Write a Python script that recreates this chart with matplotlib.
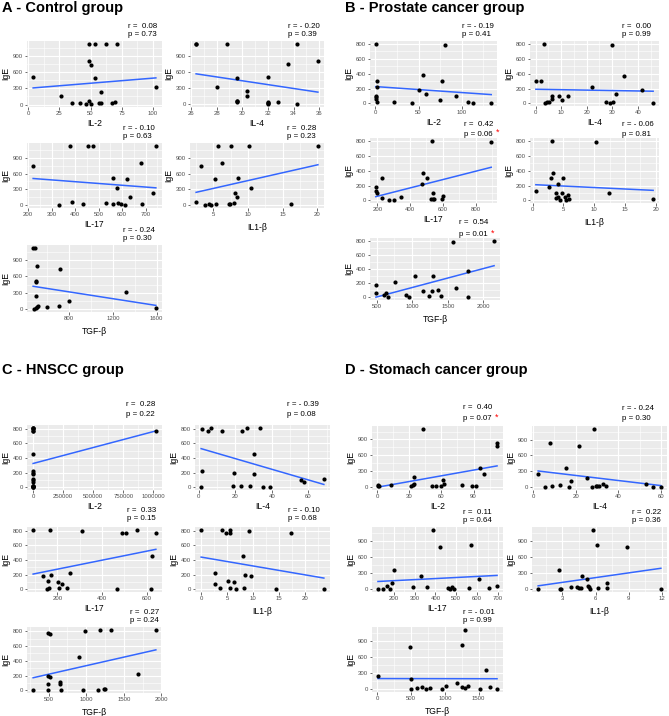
import numpy as np
import matplotlib
matplotlib.use("Agg")
import matplotlib.pyplot as plt
from matplotlib.ticker import FixedLocator

plt.rcParams['font.family'] = ['Liberation Sans', 'DejaVu Sans']

W, H = 669, 716

# ---------------- DATA ----------------
group_titles = ["A - Control group", "B - Prostate cancer group", "C - HNSCC group", "D - Stomach cancer group"]
x_labels = ["IL-2", "IL-4", "IL-17", "IL1-\u03b2", "TGF-\u03b2"]

# Control group
A_il2_x = [4, 26, 35, 41.6, 46, 49, 49, 49, 50.4, 50.7, 54, 54, 57, 58.4, 58.7, 62.5, 67, 70, 71.6, 102.4]
A_il2_y = [510, 150, 25, 30, 10, 60, 1120, 800, 730, 10, 1120, 490, 30, 240, 25, 1120, 30, 50, 1120, 320]
A_il4_x = [26.4, 26.4, 28.8, 28.0, 29.6, 29.6, 29.6, 29.6, 30.35, 30.35, 32, 32, 32, 32, 32, 32.8, 33.6, 34.3, 34.3, 35.9]
A_il4_y = [1120, 1120, 1120, 320, 490, 60, 50, 30, 240, 150, 510, 30, 25, 10, 0, 30, 740, 1120, 5, 800]
A_il17_x = [221, 380, 456, 478, 744, 680, 561, 619, 579, 332, 385, 432, 530, 561, 582, 596, 614, 633, 684, 733]
A_il17_y = [740, 1120, 1120, 1120, 1120, 800, 510, 490, 320, 5, 60, 20, 50, 20, 40, 20, 5, 150, 20, 240]
A_il1b_x = [3.2, 5.7, 7.5, 10.2, 20.1, 6.3, 5.3, 8.6, 10.5, 2.5, 3.8, 4.3, 4.6, 5.4, 7.2, 7.4, 8.0, 8.1, 8.4, 16.2]
A_il1b_y = [740, 1120, 1120, 1120, 1120, 800, 490, 510, 320, 60, 5, 20, 5, 20, 30, 20, 45, 240, 150, 20]
A_tgfb_x = [470, 490, 505, 500, 500, 494, 480, 492, 505, 518, 597, 710, 718, 797, 1321, 1594]
A_tgfb_y = [1120, 1120, 800, 510, 490, 240, 5, 25, 45, 60, 40, 50, 740, 150, 320, 20]

# Prostate cancer group
B_il2_x = [0.5, 1.5, 1.5, 0.5, 1.0, 1.0, 1.5, 22, 42.7, 50, 55.4, 58.4, 77, 80, 75, 93, 107.5, 112.7, 134]
B_il2_y = [800, 300, 215, 100, 80, 60, 20, 25, 10, 180, 380, 125, 305, 790, 50, 95, 25, 5, 5]
B_il4_x = [0.1, 2.1, 3.1, 3.5, 4.3, 5.3, 6.5, 6.5, 9, 10.5, 12.5, 22, 27.4, 29, 29.9, 30.4, 31.4, 34.7, 41.6, 46]
B_il4_y = [305, 300, 800, 5, 15, 25, 60, 95, 100, 50, 100, 215, 25, 10, 790, 25, 125, 375, 180, 5]
B_il17_x = [532, 896, 480, 506, 230, 470, 190, 192, 200, 226, 272, 304, 344, 530, 540, 540, 546, 598, 602]
B_il17_y = [800, 790, 375, 300, 300, 215, 125, 180, 100, 35, 5, 5, 50, 25, 100, 20, 20, 20, 65]
B_il1b_x = [3.1, 10.3, 3.3, 2.9, 5.0, 2.6, 0.5, 4.1, 3.8, 4.7, 3.8, 4.1, 4.5, 5.3, 5.4, 5.8, 5.9, 12.4, 19.6]
B_il1b_y = [800, 790, 375, 300, 300, 180, 125, 215, 100, 100, 30, 50, 5, 50, 5, 70, 20, 95, 15]
B_tgfb_x = [495, 490, 607, 636, 659, 752, 906, 949, 1033, 1145, 1238, 1271, 1290, 1364, 1411, 1570, 1617, 1780, 1790, 2150]
B_tgfb_y = [180, 55, 25, 65, 10, 215, 25, 5, 300, 95, 20, 95, 305, 100, 20, 790, 125, 5, 375, 800]

# HNSCC group
C_il2_x = [500, 800, 1200, 300, 1500, 900, 400, 2000, 600, 1020000, 1000, 700, 1300, 200, 1100, 1800, 100, 1600, 2500, 900]
C_il2_y = [10, 800, 230, 770, 810, 770, 195, 20, 25, 770, 810, 20, 450, 180, 810, 10, 5, 95, 80, 115]
C_il4_x = [1.3, 1.7, 2.0, 5.1, 6.8, 12.9, 19.1, 18.8, 23.3, 23.7, 26.5, 27.8, 30.3, 30.3, 33.6, 34.9, 39.2, 56.1, 57.7, 68.4]
C_il4_y = [10, 800, 230, 770, 810, 770, 195, 20, 25, 770, 810, 20, 450, 180, 810, 10, 5, 95, 80, 115]
C_il17_x = [91, 134, 151, 158, 164, 166, 171, 203, 209, 220, 241, 254, 311, 469, 490, 505, 556, 619, 625, 641]
C_il17_y = [810, 180, 5, 115, 20, 810, 195, 95, 25, 80, 20, 230, 800, 10, 770, 770, 810, 10, 450, 770]
C_il1b_x = [0, 2.6, 2.6, 3.7, 4.0, 4.7, 5.5, 5.5, 5.2, 5.6, 6.3, 6.8, 8.1, 8.3, 8.5, 9.2, 9.5, 14.3, 17.2, 23.6]
C_il1b_y = [810, 230, 80, 20, 810, 770, 810, 770, 115, 25, 95, 10, 450, 20, 195, 800, 180, 10, 770, 5]
C_tgfb_x = [293, 497, 515, 497, 497, 497, 515, 657, 657, 666, 907, 960, 987, 1160, 1187, 1240, 1245, 1334, 1685, 1926]
C_tgfb_y = [10, 190, 180, 90, 10, 770, 765, 80, 115, 5, 450, 10, 805, 5, 815, 20, 25, 810, 225, 810]

# Stomach cancer group
D_il2_x = [0.6, 0.6, 1.2, 12.5, 31.2, 33, 34, 34, 42.8, 51.4, 55, 60, 61.2, 62, 79, 89, 92, 95.7, 99.4, 112, 111.6]
D_il2_y = [40, 5, 20, 35, 20, 30, 185, 60, 1100, 20, 5, 5, 125, 60, 35, 5, 5, 360, 250, 830, 780]
D_il4_x = [2.4, 5.8, 8.8, 8.2, 12.5, 15.5, 16.9, 18, 21.6, 25.4, 28.6, 27.8, 29.4, 30.2, 30.8, 32.9, 34.4, 53, 56.4, 60]
D_il4_y = [250, 5, 20, 830, 35, 360, 5, 125, 780, 185, 1100, 5, 20, 20, 20, 60, 30, 60, 5, 5]
D_il17_x = [125, 148, 169, 181, 194, 203, 294, 333, 360, 388, 423, 459, 472, 478, 488, 559, 570, 611, 655, 695]
D_il17_y = [5, 5, 60, 5, 125, 360, 35, 250, 35, 1100, 780, 20, 5, 35, 5, 20, 830, 185, 30, 60]
D_il1b_x = [0.8, 2.7, 2.8, 2.9, 3.8, 4.35, 4.5, 4.65, 4.8, 5.2, 5.35, 5.4, 5.45, 5.8, 6.1, 6.2, 7.0, 7.0, 8.85, 11.9]
D_il1b_y = [5, 360, 5, 5, 35, 35, 25, 20, 250, 185, 60, 35, 5, 1100, 830, 30, 125, 20, 780, 5]
D_tgfb_x = [10, 478, 498, 502, 594, 662, 725, 787, 957, 1019, 1184, 1251, 1251, 1300, 1295, 1338, 1522, 1614, 1662, 1773]
D_tgfb_y = [250, 780, 185, 5, 20, 35, 5, 20, 5, 60, 125, 830, 35, 1100, 30, 60, 5, 360, 35, 5]

# correlation statistics (r, p, significant-star)
A_r = [0.08, -0.20, -0.10, 0.28, -0.24]
A_p = [0.73, 0.39, 0.63, 0.23, 0.30]
B_r = [-0.19, 0.00, 0.42, -0.06, 0.54]
B_p = [0.41, 0.99, 0.06, 0.81, 0.01]
C_r = [0.28, -0.39, 0.33, -0.10, 0.27]
C_p = [0.22, 0.08, 0.15, 0.68, 0.24]
D_r = [0.40, -0.24, 0.11, 0.22, -0.01]
D_p = [0.07, 0.30, 0.64, 0.36, 0.99]
A_star = [False, False, False, False, False]
B_star = [False, False, True, False, True]
C_star = [False, False, False, False, False]
D_star = [True, False, False, False, False]

# tick breaks
A_yticks = [0, 300, 600, 900]
B_yticks = [0, 200, 400, 600, 800]
C_yticks = [0, 200, 400, 600, 800]
D_yticks = [0, 300, 600, 900]
A_xticks = [[0, 25, 50, 75, 100], [26, 28, 30, 32, 34, 36], [200, 300, 400, 500, 600, 700], [5, 10, 15, 20], [800, 1200, 1600]]
B_xticks = [[0, 50, 100], [0, 10, 20, 30, 40], [200, 400, 600, 800], [0, 5, 10, 15, 20], [500, 1000, 1500, 2000]]
C_xticks = [[0, 250000, 500000, 750000, 1000000], [0, 20, 40, 60], [200, 400, 600], [0, 5, 10, 15, 20, 25], [500, 1000, 1500, 2000]]
D_xticks = [[0, 30, 60, 90], [0, 20, 40, 60], [200, 300, 400, 500, 600, 700], [3, 6, 9, 12], [0, 500, 1000, 1500]]

# ---------------- LAYOUT (pixels) ----------------
# panel boxes (left, top, right, bottom)
A_boxes = [(27, 41, 162, 107), (190, 41, 324, 107), (27, 143, 162, 208), (190, 143, 324, 208), (27, 245, 162, 312)]
B_boxes = [(370, 41, 497, 106), (530, 41, 659, 106), (370, 138, 497, 203), (530, 138, 659, 203), (370, 238, 500, 300)]
C_boxes = [(27, 425, 162, 490), (195, 425, 330, 490), (27, 527, 162, 592), (195, 527, 330, 592), (27, 627, 162, 693)]
D_boxes = [(372, 426, 503, 490), (532, 426, 667, 490), (372, 527, 503, 592), (532, 527, 667, 592), (372, 627, 503, 692)]
# annotation positions (x left, y of r line, y of p line)
A_ann = [(128, 26, 35), (288, 26, 35), (123, 128, 137), (287, 128, 137), (123, 230, 238)]
B_ann = [(462, 26, 35), (622, 26, 35), (464, 124, 134), (622, 124, 134), (459, 223, 235)]
C_ann = [(126, 405, 414), (287, 405, 414), (127, 511, 519), (288, 511, 519), (130, 612, 621)]
D_ann = [(463, 408, 419), (622, 409, 418), (463, 512, 521), (632, 512, 521), (463, 612, 621)]
title_pos = [(2, 8), (345, 8), (2, 370), (345, 370)]

fig = plt.figure(figsize=(W / 100, H / 100), dpi=100)

BG = '#EBEBEB'
TICKC = '#4D4D4D'


def fx(px):
    return px / W


def fy(py):
    return 1 - py / H


def rtext(r):
    return "r = " + ("- " if r < 0 else " ") + f"{abs(r):.2f}"


def panel(box, xs, ys, xticks, yticks, xlabel, r, p, star, ann):
    l, t, rr, b = box
    ax = fig.add_axes([fx(l), fy(b), (rr - l) / W, (b - t) / H])
    xs = np.asarray(xs, float)
    ys = np.asarray(ys, float)
    slope, icpt = np.polyfit(xs, ys, 1)
    lx = np.array([xs.min(), xs.max()])
    ly = slope * lx + icpt
    allx = np.concatenate([xs, lx])
    ally = np.concatenate([ys, ly])
    dx = (allx.max() - allx.min()) * 0.05
    dy = (ally.max() - ally.min()) * 0.05
    ax.set_xlim(allx.min() - dx, allx.max() + dx)
    ax.set_ylim(ally.min() - dy, ally.max() + dy)
    ax.set_facecolor(BG)
    for s in ax.spines.values():
        s.set_visible(False)
    ax.xaxis.set_major_locator(FixedLocator(xticks))
    ax.yaxis.set_major_locator(FixedLocator(yticks))
    xst = xticks[1] - xticks[0]
    yst = yticks[1] - yticks[0]
    xminor = np.arange(xticks[0] - xst / 2, xticks[-1] + xst, xst)
    yminor = np.arange(yticks[0] - yst / 2, yticks[-1] + yst, yst)
    ax.xaxis.set_minor_locator(FixedLocator(xminor))
    ax.yaxis.set_minor_locator(FixedLocator(yminor))
    ax.grid(True, which='major', color='white', lw=0.8)
    ax.grid(True, which='minor', color='white', lw=0.4)
    ax.set_axisbelow(True)
    ax.tick_params(which='major', length=1.8, width=0.5, color='#333333',
                   labelsize=4.3, labelcolor=TICKC, pad=1.2)
    ax.tick_params(which='minor', length=0)
    ax.set_xticklabels([str(v) for v in xticks])
    ax.set_yticklabels([str(v) for v in yticks])
    ax.scatter(xs, ys, s=9, color='black', zorder=3, linewidths=0)
    ax.plot(lx, ly, color='#3366FF', lw=1.1, zorder=2)
    beta = '\u03b2' in xlabel
    ax.set_xlabel(xlabel, fontsize=6.2, labelpad=4.5 if beta else 2.0, color='black')
    ax.set_ylabel('IgE', fontsize=6.2, labelpad=1.5, color='black')
    axp, ry, py = ann
    fig.text(fx(axp), fy(ry), rtext(r), fontsize=5.7, va='center', ha='left')
    pt = fig.text(fx(axp), fy(py), f"p = {p:.2f}", fontsize=5.7, va='center', ha='left')
    if star:
        fig.add_artist(matplotlib.text.Annotation(
            '*', xy=(1, 0.75), xycoords=pt, xytext=(2, 0),
            textcoords='offset points', color='red', fontsize=6.5,
            ha='left', va='center', annotation_clip=False))
    return ax


groups = [
    (A_boxes, [A_il2_x, A_il4_x, A_il17_x, A_il1b_x, A_tgfb_x], [A_il2_y, A_il4_y, A_il17_y, A_il1b_y, A_tgfb_y],
     A_xticks, A_yticks, A_r, A_p, A_star, A_ann),
    (B_boxes, [B_il2_x, B_il4_x, B_il17_x, B_il1b_x, B_tgfb_x], [B_il2_y, B_il4_y, B_il17_y, B_il1b_y, B_tgfb_y],
     B_xticks, B_yticks, B_r, B_p, B_star, B_ann),
    (C_boxes, [C_il2_x, C_il4_x, C_il17_x, C_il1b_x, C_tgfb_x], [C_il2_y, C_il4_y, C_il17_y, C_il1b_y, C_tgfb_y],
     C_xticks, C_yticks, C_r, C_p, C_star, C_ann),
    (D_boxes, [D_il2_x, D_il4_x, D_il17_x, D_il1b_x, D_tgfb_x], [D_il2_y, D_il4_y, D_il17_y, D_il1b_y, D_tgfb_y],
     D_xticks, D_yticks, D_r, D_p, D_star, D_ann),
]

for gi, (boxes, xl, yl, xt, yt, rs, ps, stars, anns) in enumerate(groups):
    for i in range(5):
        panel(boxes[i], xl[i], yl[i], xt[i], yt, x_labels[i], rs[i], ps[i], stars[i], anns[i])
    tx, ty = title_pos[gi]
    fig.text(fx(tx), fy(ty), group_titles[gi], fontsize=10.5, fontweight='bold',
             ha='left', va='center')

fig.savefig('out.png', dpi=100, facecolor='white')
